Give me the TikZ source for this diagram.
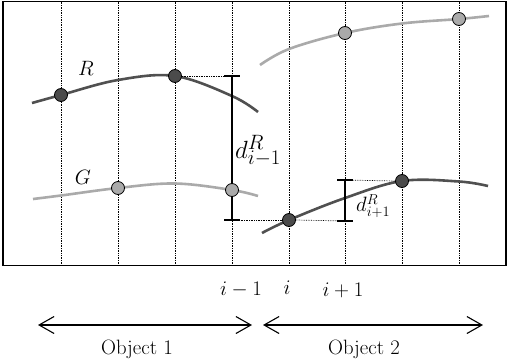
\documentclass[tikz,border=0pt]{standalone}
\usetikzlibrary{arrows.meta}
\begin{document}
\begin{tikzpicture}[x=1pt,y=-1pt,
  grid/.style={densely dotted,line width=0.7pt},
  darkcurve/.style={draw={rgb,255:red,80;green,80;blue,80},line width=2.6pt},
  lightcurve/.style={draw={rgb,255:red,170;green,170;blue,170},line width=2.6pt},
  darkdot/.style={circle,draw=black,line width=0.8pt,fill={rgb,255:red,75;green,75;blue,75},minimum size=13pt,inner sep=0pt},
  lightdot/.style={circle,draw=black,line width=0.8pt,fill={rgb,255:red,170;green,170;blue,170},minimum size=13pt,inner sep=0pt},
  errbar/.style={line width=1.6pt},
  lbl/.style={font=\huge,inner sep=0pt},
  biglbl/.style={font=\Huge,inner sep=0pt},
  span/.style={line width=1.1pt,{Straight Barb[length=15pt,width=17pt]}-{Straight Barb[length=15pt,width=17pt]}}]
\useasboundingbox (0,0) rectangle (508,362);
% frame
\draw[line width=1.2pt] (3,1.5) rectangle (506,265.5);
% grid lines
\foreach \x in {61,118,175,232,289,345,402,459}
  \draw[grid] (\x,1.5) -- (\x,265.5);
% curves
\draw[darkcurve] plot[smooth,tension=0.6] coordinates {(32,103) (61,95) (118,80) (175,76) (232,96) (258,112)};
\draw[lightcurve] plot[smooth,tension=0.6] coordinates {(33,199) (61,195.5) (118,188) (175,183.5) (232,190) (258,196)};
\draw[lightcurve] plot[smooth,tension=0.6] coordinates {(260,65) (289,49) (345,33) (402,23.5) (459,19) (489,16)};
\draw[darkcurve] plot[smooth,tension=0.6] coordinates {(262,233) (289,220) (345,198) (402,181) (459,181.5) (488,186)};
% error bars
\coordinate (b1t) at (232,76);
\coordinate (b1b) at (232,220);
\coordinate (b2t) at (345,180);
\coordinate (b2b) at (345,221);
% dots
\node[darkdot] (r1) at (61,95) {};
\node[darkdot] (r2) at (175,76) {};
\node[lightdot] (g1) at (118,188) {};
\node[darkdot] (r3) at (289,220) {};
\node[darkdot] (r4) at (402,181) {};
\node[lightdot] (g3) at (345,33) {};
\node[lightdot] (g4) at (459,19) {};
% dotted guides
\draw[grid] (r2.east) -- (b1t);
\draw[grid] (b1b) -- (r3.west);
\draw[grid] (r3.east) -- (b2b);
\draw[grid] (b2t) -- (r4.west);
\draw[errbar] (b1t) -- (b1b);
\draw[errbar] ([xshift=-8pt]b1t) -- ([xshift=8pt]b1t);
\draw[errbar] ([xshift=-8pt]b1b) -- ([xshift=8pt]b1b);
\draw[errbar] (b2t) -- (b2b);
\draw[errbar] ([xshift=-8pt]b2t) -- ([xshift=8pt]b2t);
\draw[errbar] ([xshift=-8pt]b2b) -- ([xshift=8pt]b2b);
\node[lightdot] (g2) at (232,190) {};
% labels
\node[lbl] (lR) at (86,68.5) {$R$};
\node[lbl] (lG) at (83,177.5) {$G$};
\node[biglbl,anchor=west] (d1) at (235,150.5) {$d^{R}_{i-1}$};
\node[lbl,anchor=west] (d2) at (356,206) {$d^{R}_{i+1}$};
\node[lbl] (im) at (241,290) {$i-1$};
\node[lbl] (i0) at (287,288) {$i$};
\node[lbl] (ip) at (343,290) {$i+1$};
% spans
\coordinate (o1l) at (38,325);
\coordinate (o1r) at (252,325);
\coordinate (o2l) at (263,325);
\coordinate (o2r) at (483,325);
\draw[span] (o1l) -- (o1r);
\draw[span] (o2l) -- (o2r);
\node[lbl] (ob1) at (137,349) {Object 1};
\node[lbl] (ob2) at (364,349) {Object 2};
\end{tikzpicture}
\end{document}
